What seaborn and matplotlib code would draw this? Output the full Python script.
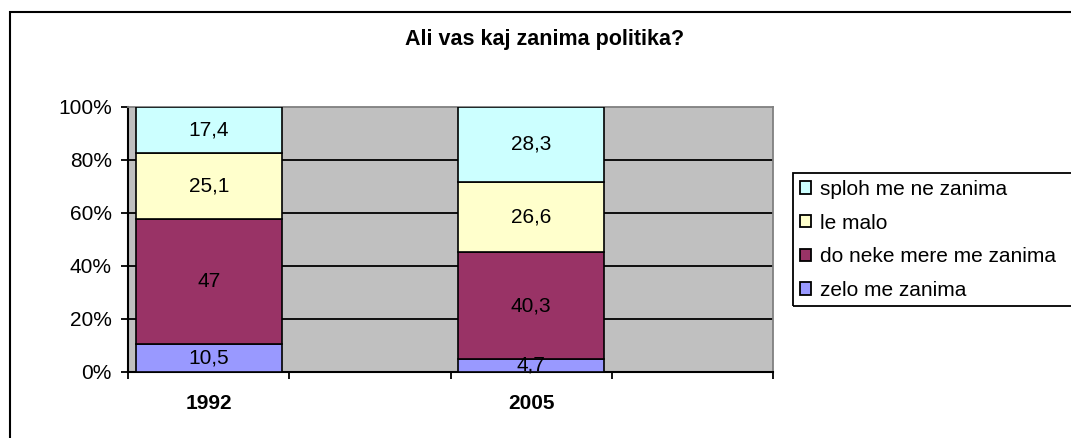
import matplotlib
matplotlib.use("Agg")
import matplotlib.pyplot as plt
import matplotlib.patches as mpatches
from matplotlib.ticker import FixedLocator, FixedFormatter
import numpy as np
import seaborn as sns

# data (values in %)
categories = ["1992", "", "2005", ""]
series_names = ["zelo me zanima", "do neke mere me zanima", "le malo", "sploh me ne zanima"]
zelo = [10.5, np.nan, 4.7, np.nan]
do_neke = [47, np.nan, 40.3, np.nan]
le_malo = [25.1, np.nan, 26.6, np.nan]
sploh = [17.4, np.nan, 28.3, np.nan]
y_ticks = [0, 20, 40, 60, 80, 100]
title = "Ali vas kaj zanima politika?"

colors = ["#9999FF", "#993366", "#FFFFCC", "#CCFFFF"]

sns.set_style("white")
plt.rcParams["font.family"] = ["Liberation Sans", "DejaVu Sans"]
plt.rcParams.update({"text.color": "black", "axes.labelcolor": "black",
                     "xtick.color": "black", "ytick.color": "black"})
FS = 15

fig = plt.figure(figsize=(10.71, 4.38), dpi=100)
W, H = 1071, 438
ax = fig.add_axes([128.3 / W, 1 - 371.7 / H, (772.7 - 128.3) / W, (371.7 - 106.7) / H])
ax.set_facecolor("#C0C0C0")

values = np.array([zelo, do_neke, le_malo, sploh], dtype=float)
totals = np.nansum(values, axis=0)
x = np.arange(len(categories))
mask = ~np.isnan(values[0])

bottom = np.zeros(len(categories))
for name, vals, col in zip(series_names, values, colors):
    pct = np.where(mask, vals / np.where(totals == 0, 1, totals) * 100, 0)
    ax.bar(x[mask], pct[mask], bottom=bottom[mask], width=0.905, color=col,
           edgecolor="black", linewidth=1.2, label=name, zorder=3)
    for xi, b, p, v in zip(x[mask], bottom[mask], pct[mask], vals[mask]):
        ax.text(xi, b + p / 2, f"{v:g}".replace(".", ","), ha="center", va="center",
                fontsize=FS, color="black", zorder=4)
    bottom = bottom + pct

ax.set_xlim(-0.5, len(categories) - 0.5)
ax.set_ylim(0, 100)

# gridlines
for yv in y_ticks[1:-1]:
    ax.axhline(yv, color="black", linewidth=1.3, zorder=1)

for side in ["top", "right"]:
    ax.spines[side].set_color("#808080")
    ax.spines[side].set_linewidth(1.3)
for side in ["left", "bottom"]:
    ax.spines[side].set_color("black")
    ax.spines[side].set_linewidth(1.5)

ax.yaxis.set_major_locator(FixedLocator(y_ticks))
ax.yaxis.set_major_formatter(FixedFormatter([f"{t}%" for t in y_ticks]))
ax.tick_params(axis="y", direction="out", length=5, width=1.3, pad=7, labelsize=FS,
               left=True, colors="black")

ax.xaxis.set_major_locator(FixedLocator(np.arange(len(categories) + 1) - 0.5))
ax.xaxis.set_major_formatter(FixedFormatter([""] * (len(categories) + 1)))
ax.xaxis.set_minor_locator(FixedLocator(x))
ax.xaxis.set_minor_formatter(FixedFormatter(categories))
ax.tick_params(axis="x", which="major", direction="out", length=5, width=1.3, bottom=True,
               colors="black")
ax.tick_params(axis="x", which="minor", length=0, pad=16, labelsize=FS, colors="black")
for lbl in ax.xaxis.get_minorticklabels():
    lbl.set_fontweight("bold")

fig.text(545 / W, 1 - 40 / H, title, ha="center", va="center", fontsize=FS + 0.5,
         fontweight="bold", color="black")

handles, labels = ax.get_legend_handles_labels()
leg = fig.legend(handles[::-1], labels[::-1], loc="upper left",
                 bbox_to_anchor=(800 / W, 1 - 180 / H), bbox_transform=fig.transFigure,
                 fontsize=FS, frameon=False, labelcolor="black",
                 handlelength=0.55, handleheight=0.55, handletextpad=0.4,
                 labelspacing=0.7, borderpad=0, borderaxespad=0)
for h in leg.legend_handles:
    h.set_linewidth(1.3)

# legend frame runs off the right edge like in the reference
fig.add_artist(mpatches.Rectangle((793 / W, 1 - 306 / H), 0.3, (306 - 172.5) / H,
                                  transform=fig.transFigure, fill=False,
                                  edgecolor="black", linewidth=1.3))

# outer chart border (runs off the right and bottom edges)
fig.add_artist(mpatches.Rectangle((9.5 / W, -0.05), 1.1, 1 - 11.5 / H + 0.05,
                                  transform=fig.transFigure, fill=False,
                                  edgecolor="black", linewidth=1.5))

fig.savefig("out.png", dpi=100)
